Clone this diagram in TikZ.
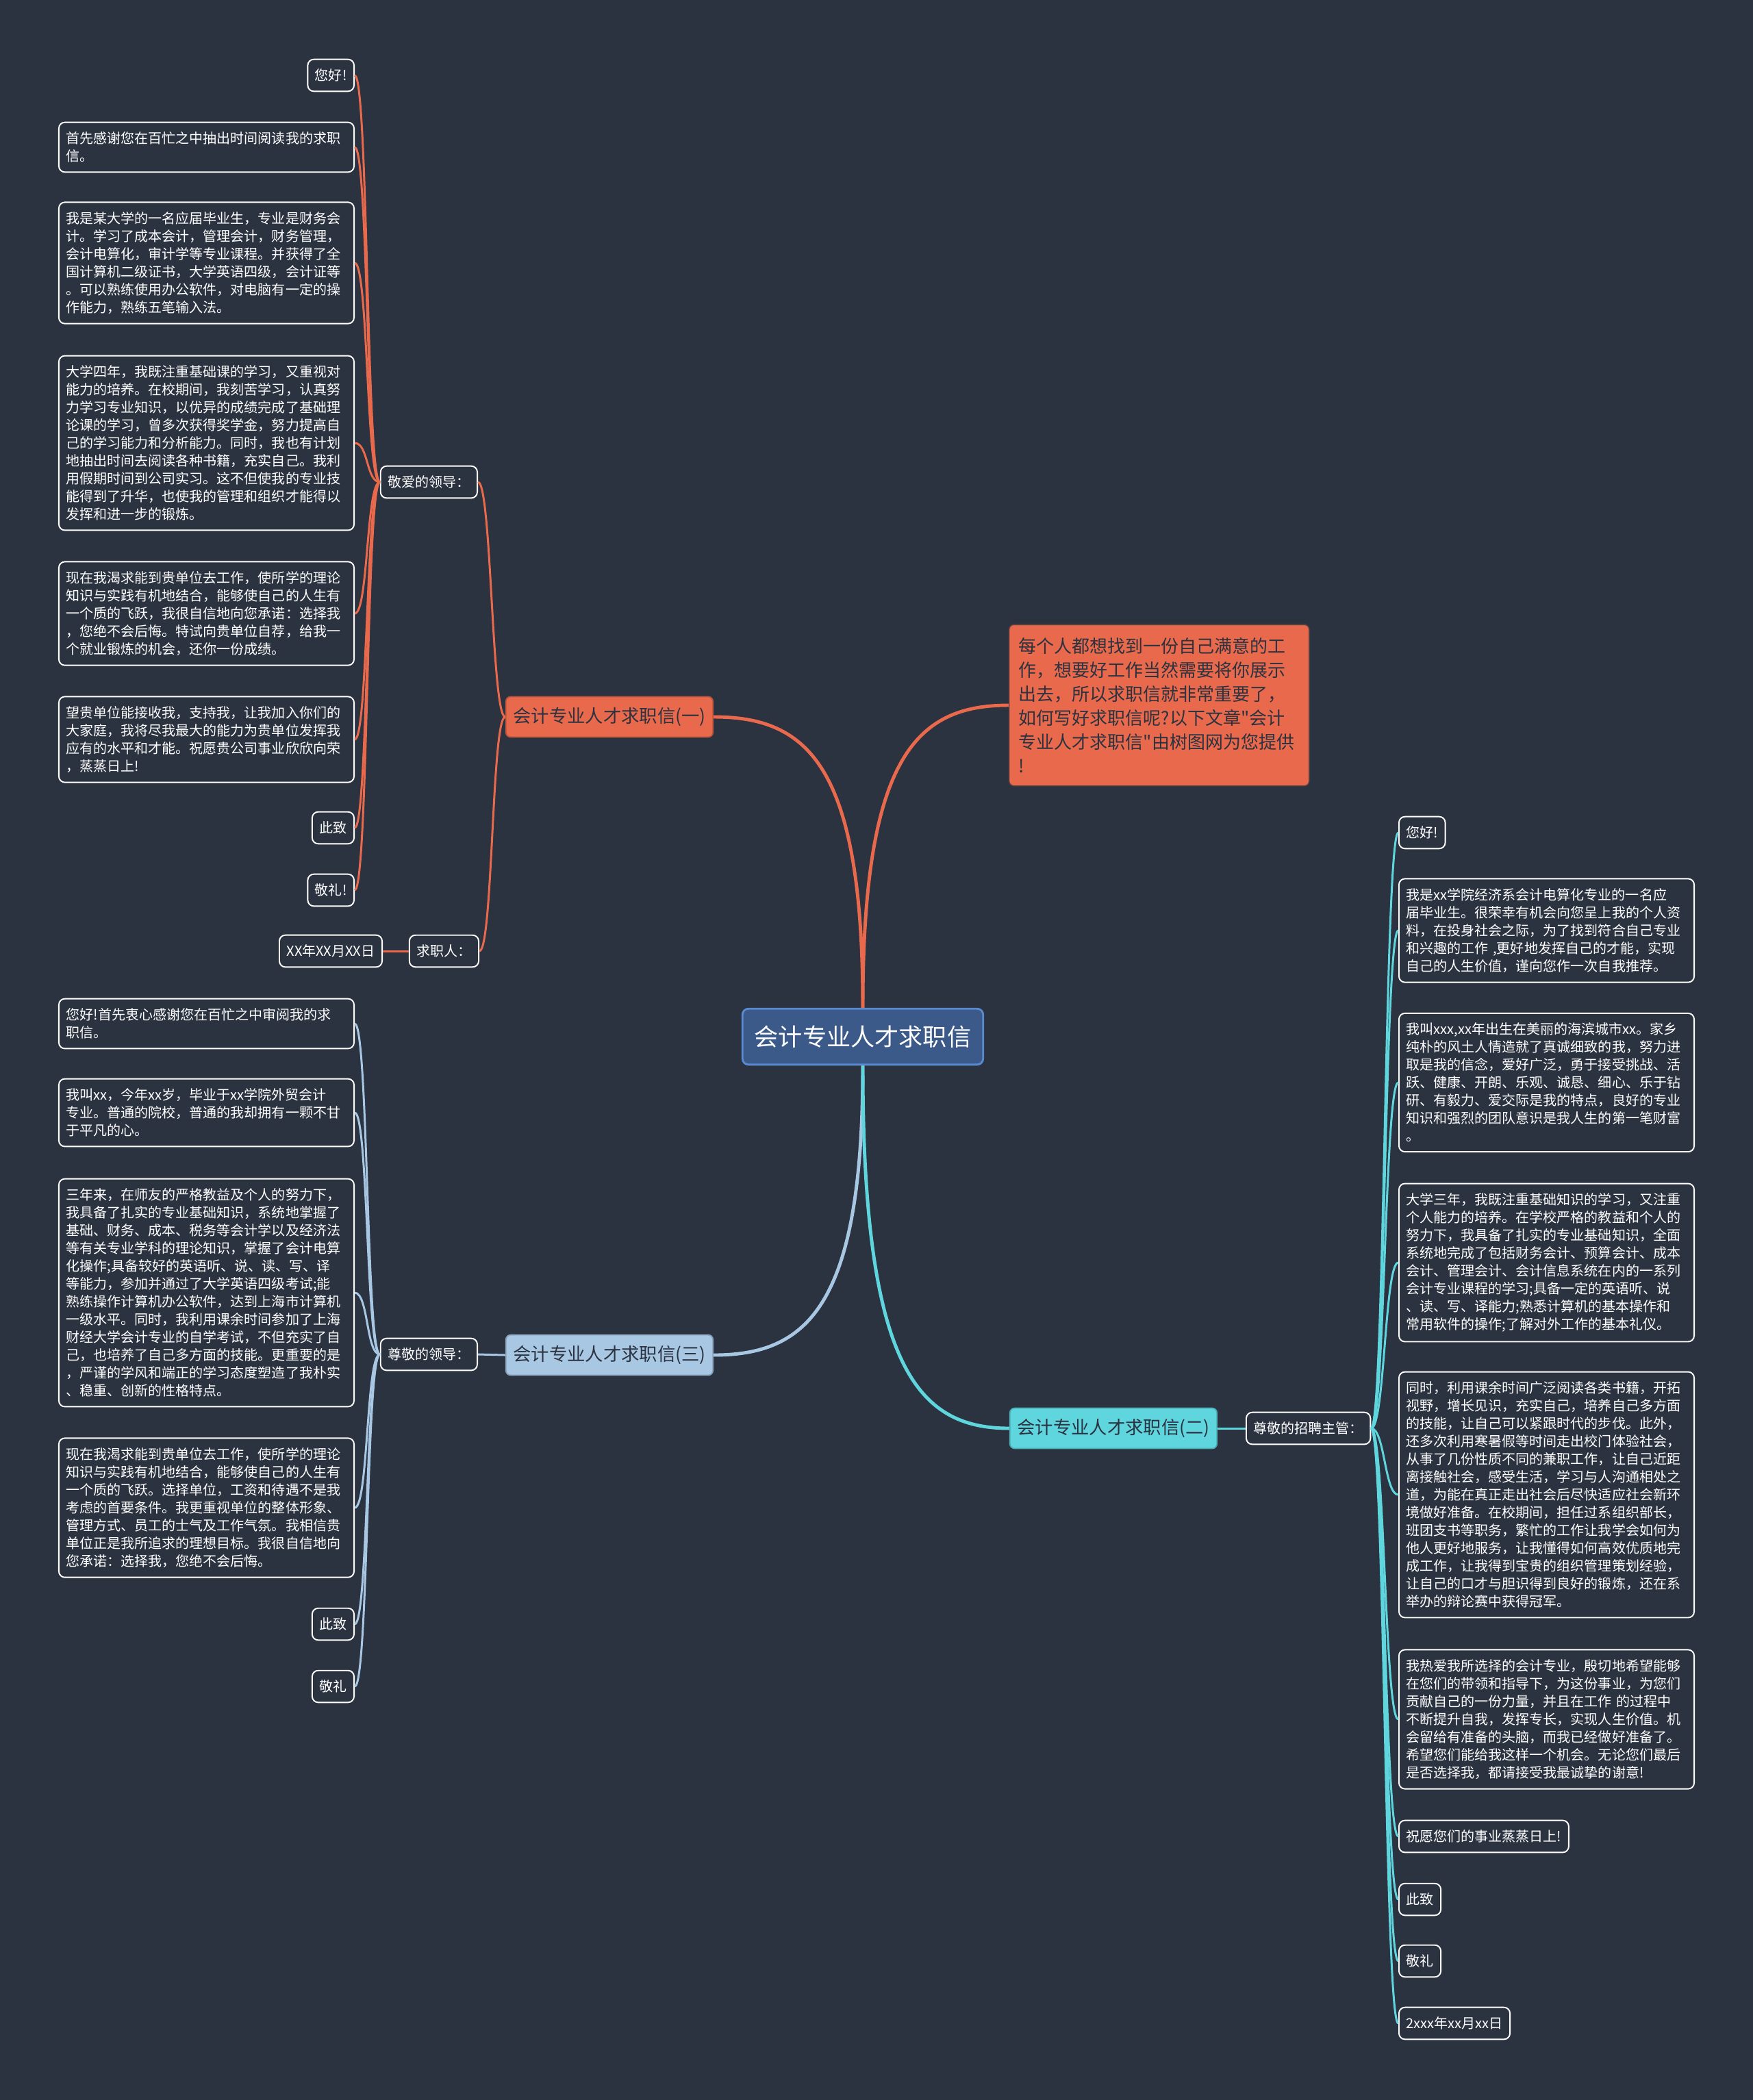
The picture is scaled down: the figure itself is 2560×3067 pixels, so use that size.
\documentclass[tikz,border=0pt]{standalone}
\usepackage{fontspec}
\setmainfont{Noto Sans CJK SC}[Ligatures=TeXOff]
\usepackage{tikz}
\usetikzlibrary{positioning}
\usepackage{xcolor}
\definecolor{bgc}{HTML}{2B3240}
\definecolor{orc}{HTML}{E8694B}
\definecolor{cyc}{HTML}{5FD6DE}
\definecolor{lbc}{HTML}{A7C7E3}
\definecolor{rtc}{HTML}{3B5A8A}
\definecolor{rtb}{HTML}{5A8BD0}

\begin{document}
\begin{tikzpicture}[x=0.1mm,y=-0.1mm,
  leaf/.style={draw=white,line width=0.55pt,fill=bgc,rounded corners=2.5pt,text=white,
    font=\fontsize{5.7}{7.4}\selectfont,inner xsep=3pt,inner ysep=4pt},
  para/.style={leaf,text width=4.1cm,align=left},
  branch/.style={rounded corners=2pt,text=bgc,font=\fontsize{7.5}{9}\selectfont,
    inner xsep=3pt,inner ysep=4.5pt,line width=0.5pt},
  orline/.style={orc,line width=0.85pt},
  cyline/.style={cyc,line width=0.85pt},
  lbline/.style={lbc,line width=0.85pt},
  mainline/.style={line width=1.4pt}]
  % 背景
  \fill[bgc] (0,0) rectangle (2560,3067);

  % 中心ノード
  \node[draw=rtb,fill=rtc,rounded corners=2.5pt,text=white,line width=0.8pt,
    font=\fontsize{10}{12}\selectfont,inner xsep=5pt,inner ysep=7pt] (root) at (1260,1514) {会计专业人才求职信};

  % 説明
  \node[fill=orc,draw=bgc!70!orc,rounded corners=2pt,text=bgc,text width=4.1cm,align=left,
    font=\fontsize{7.4}{10}\selectfont,inner xsep=4pt,inner ysep=5.3pt,anchor=west] (intro) at (1473,1030)
    {每个人都想找到一份自己满意的工\\
     作，想要好工作当然需要将你展示\\
     出去，所以求职信就非常重要了，\\
     如何写好求职信呢?以下文章"会计\\
     专业人才求职信"由树图网为您提供\\
     !};

  % 枝
  \node[branch,fill=orc,draw=orc!80!black] (b1) at (890,1047) {会计专业人才求职信(一)};
  \node[branch,fill=lbc,draw=lbc!80!black] (b3) at (890,1979) {会计专业人才求职信(三)};
  \node[branch,fill=cyc,draw=cyc!80!black] (b2) at (1626,2086) {会计专业人才求职信(二)};

  % (一)
  \node[leaf,anchor=east] (m1) at (698,704) {敬爱的领导：};
  \node[leaf,anchor=east] (m2) at (700,1389) {求职人：};
  \node[leaf,anchor=east] (m2a) at (559,1389) {XX年XX月XX日};

  \node[leaf,anchor=east] (l1a) at (518,110) {您好!};
  \node[para,anchor=east] (l1b) at (518,215) {首先感谢您在百忙之中抽出时间阅读我的求职\\
    信。};
  \node[para,anchor=east] (l1c) at (518,384) {我是某大学的一名应届毕业生，专业是财务会\\
    计。学习了成本会计，管理会计，财务管理，\\
    会计电算化，审计学等专业课程。并获得了全\\
    国计算机二级证书，大学英语四级，会计证等\\
    。可以熟练使用办公软件，对电脑有一定的操\\
    作能力，熟练五笔输入法。};
  \node[para,anchor=east] (l1d) at (518,647) {大学四年，我既注重基础课的学习，又重视对\\
    能力的培养。在校期间，我刻苦学习，认真努\\
    力学习专业知识，以优异的成绩完成了基础理\\
    论课的学习，曾多次获得奖学金，努力提高自\\
    己的学习能力和分析能力。同时，我也有计划\\
    地抽出时间去阅读各种书籍，充实自己。我利\\
    用假期时间到公司实习。这不但使我的专业技\\
    能得到了升华，也使我的管理和组织才能得以\\
    发挥和进一步的锻炼。};
  \node[para,anchor=east] (l1e) at (518,896) {现在我渴求能到贵单位去工作，使所学的理论\\
    知识与实践有机地结合，能够使自己的人生有\\
    一个质的飞跃，我很自信地向您承诺：选择我\\
    ，您绝不会后悔。特试向贵单位自荐，给我一\\
    个就业锻炼的机会，还你一份成绩。};
  \node[para,anchor=east] (l1f) at (518,1080) {望贵单位能接收我，支持我，让我加入你们的\\
    大家庭，我将尽我最大的能力为贵单位发挥我\\
    应有的水平和才能。祝愿贵公司事业欣欣向荣\\
    ，蒸蒸日上!};
  \node[leaf,anchor=east] (l1g) at (518,1209) {此致};
  \node[leaf,anchor=east] (l1h) at (518,1300) {敬礼!};

  % (三)
  \node[leaf,anchor=east] (m3) at (698,1978) {尊敬的领导：};

  \node[para,anchor=east] (l3a) at (518,1495) {您好!首先衷心感谢您在百忙之中审阅我的求\\
    职信。};
  \node[para,anchor=east] (l3b) at (518,1625) {我叫xx，今年xx岁，毕业于xx学院外贸会计\\
    专业。普通的院校，普通的我却拥有一颗不甘\\
    于平凡的心。};
  \node[para,anchor=east] (l3c) at (518,1888) {三年来，在师友的严格教益及个人的努力下，\\
    我具备了扎实的专业基础知识，系统地掌握了\\
    基础、财务、成本、税务等会计学以及经济法\\
    等有关专业学科的理论知识，掌握了会计电算\\
    化操作;具备较好的英语听、说、读、写、译\\
    等能力，参加并通过了大学英语四级考试;能\\
    熟练操作计算机办公软件，达到上海市计算机\\
    一级水平。同时，我利用课余时间参加了上海\\
    财经大学会计专业的自学考试，不但充实了自\\
    己，也培养了自己多方面的技能。更重要的是\\
    ，严谨的学风和端正的学习态度塑造了我朴实\\
    、稳重、创新的性格特点。};
  \node[para,anchor=east] (l3d) at (518,2202) {现在我渴求能到贵单位去工作，使所学的理论\\
    知识与实践有机地结合，能够使自己的人生有\\
    一个质的飞跃。选择单位，工资和待遇不是我\\
    考虑的首要条件。我更重视单位的整体形象、\\
    管理方式、员工的士气及工作气氛。我相信贵\\
    单位正是我所追求的理想目标。我很自信地向\\
    您承诺：选择我，您绝不会后悔。};
  \node[leaf,anchor=east] (l3e) at (518,2372) {此致};
  \node[leaf,anchor=east] (l3f) at (518,2463) {敬礼};

  % (二)
  \node[leaf,anchor=west] (m4) at (1819,2086) {尊敬的招聘主管：};

  \node[leaf,anchor=west] (l2a) at (2042,1216) {您好!};
  \node[para,anchor=west] (l2b) at (2042,1359) {我是xx学院经济系会计电算化专业的一名应\\
    届毕业生。很荣幸有机会向您呈上我的个人资\\
    料，在投身社会之际，为了找到符合自己专业\\
    和兴趣的工作 ,更好地发挥自己的才能，实现\\
    自己的人生价值，谨向您作一次自我推荐。};
  \node[para,anchor=west] (l2c) at (2042,1581) {我叫xxx,xx年出生在美丽的海滨城市xx。家乡\\
    纯朴的风土人情造就了真诚细致的我，努力进\\
    取是我的信念，爱好广泛，勇于接受挑战、活\\
    跃、健康、开朗、乐观、诚恳、细心、乐于钻\\
    研、有毅力、爱交际是我的特点，良好的专业\\
    知识和强烈的团队意识是我人生的第一笔财富\\
    。};
  \node[para,anchor=west] (l2d) at (2042,1844) {大学三年，我既注重基础知识的学习，又注重\\
    个人能力的培养。在学校严格的教益和个人的\\
    努力下，我具备了扎实的专业基础知识，全面\\
    系统地完成了包括财务会计、预算会计、成本\\
    会计、管理会计、会计信息系统在内的一系列\\
    会计专业课程的学习;具备一定的英语听、说\\
    、读、写、译能力;熟悉计算机的基本操作和\\
    常用软件的操作;了解对外工作的基本礼仪。};
  \node[para,anchor=west] (l2e) at (2042,2183) {同时，利用课余时间广泛阅读各类书籍，开拓\\
    视野，增长见识，充实自己，培养自己多方面\\
    的技能，让自己可以紧跟时代的步伐。此外，\\
    还多次利用寒暑假等时间走出校门体验社会，\\
    从事了几份性质不同的兼职工作，让自己近距\\
    离接触社会，感受生活，学习与人沟通相处之\\
    道，为能在真正走出社会后尽快适应社会新环\\
    境做好准备。在校期间，担任过系组织部长，\\
    班团支书等职务，繁忙的工作让我学会如何为\\
    他人更好地服务，让我懂得如何高效优质地完\\
    成工作，让我得到宝贵的组织管理策划经验，\\
    让自己的口才与胆识得到良好的锻炼，还在系\\
    举办的辩论赛中获得冠军。};
  \node[para,anchor=west] (l2f) at (2042,2511) {我热爱我所选择的会计专业，殷切地希望能够\\
    在您们的带领和指导下，为这份事业，为您们\\
    贡献自己的一份力量，并且在工作 的过程中\\
    不断提升自我，发挥专长，实现人生价值。机\\
    会留给有准备的头脑，而我已经做好准备了。\\
    希望您们能给我这样一个机会。无论您们最后\\
    是否选择我，都请接受我最诚挚的谢意!};
  \node[leaf,anchor=west] (l2g) at (2042,2682) {祝愿您们的事业蒸蒸日上!};
  \node[leaf,anchor=west] (l2h) at (2042,2774) {此致};
  \node[leaf,anchor=west] (l2i) at (2042,2864) {敬礼};
  \node[leaf,anchor=west] (l2j) at (2042,2955) {2xxx年xx月xx日};

  % 接続線
  \draw[orc,mainline] (root.north) .. controls +(0,-353) and +(138,0) .. (b1.east);
  \draw[orc,mainline] (root.north) .. controls +(0,-368) and +(-134,0) .. (intro.west);
  \draw[lbc,mainline] (root.south) .. controls +(0,351) and +(137,0) .. (b3.east);
  \draw[cyc,mainline] (root.south) .. controls +(0,440) and +(-134,0) .. (b2.west);

  \foreach \m in {m1,m2}
    \draw[orline] (b1.west) .. controls +(-20,0) and +(20,0) .. (\m.east);
  \draw[orline] (m2.west) -- (m2a.east);
  \foreach \n in {l1a,l1b,l1c,l1d,l1e,l1f,l1g,l1h}
    \draw[orline] (m1.west) .. controls +(-20,0) and +(20,0) .. (\n.east);

  \draw[lbline] (b3.west) -- (m3.east);
  \foreach \n in {l3a,l3b,l3c,l3d,l3e,l3f}
    \draw[lbline] (m3.west) .. controls +(-20,0) and +(20,0) .. (\n.east);

  \draw[cyline] (b2.east) -- (m4.west);
  \foreach \n in {l2a,l2b,l2c,l2d,l2e,l2f,l2g,l2h,l2i,l2j}
    \draw[cyline] (m4.east) .. controls +(20,0) and +(-20,0) .. (\n.west);
\end{tikzpicture}
\end{document}
